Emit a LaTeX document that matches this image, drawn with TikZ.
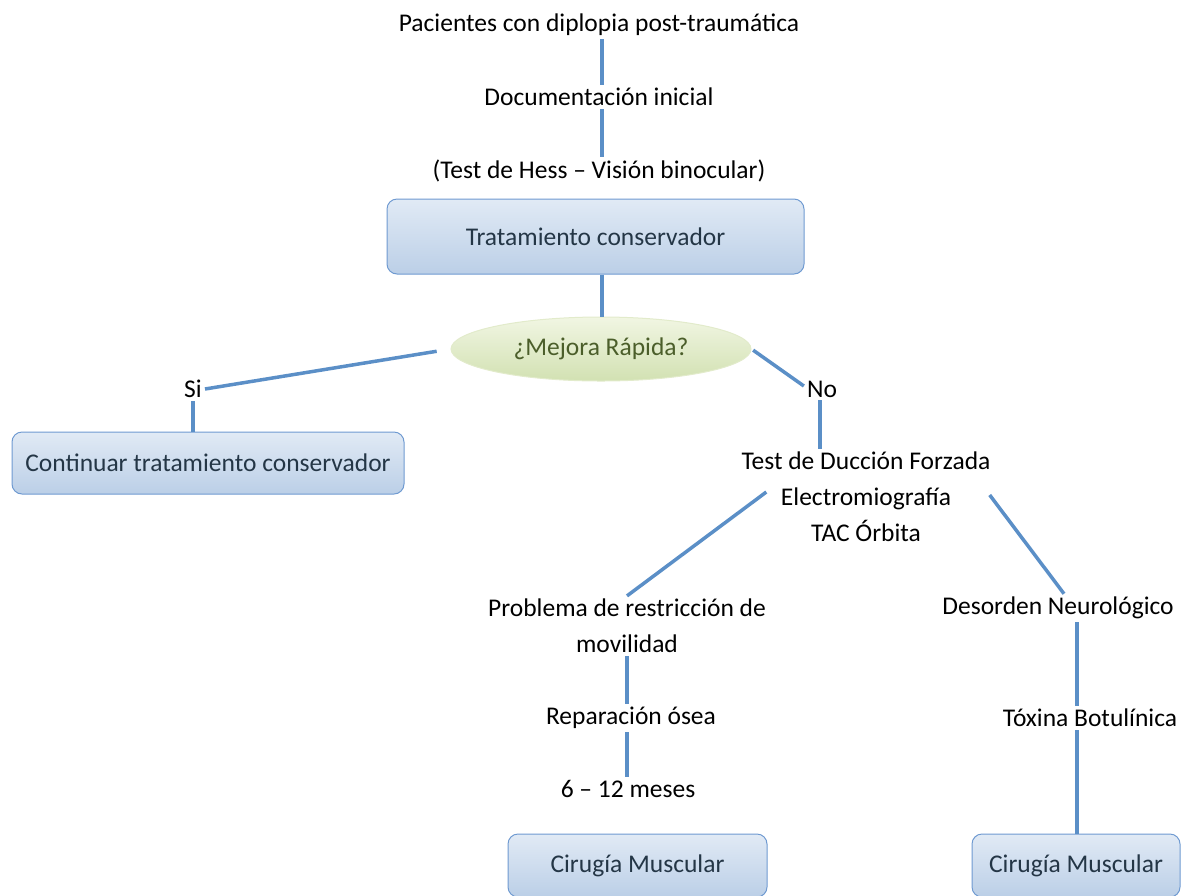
\documentclass[tikz,border=0pt]{standalone}
\usepackage{fontspec}
\setmainfont{Carlito}
\usetikzlibrary{shapes.geometric}
\definecolor{linkblue}{HTML}{5B8FC7}
\definecolor{boxtop}{HTML}{E1EAF5}
\definecolor{boxbot}{HTML}{BBCFE7}
\definecolor{boxedge}{HTML}{6F9AD1}
\definecolor{boxtext}{HTML}{243646}
\definecolor{ovaltop}{HTML}{F1F6E3}
\definecolor{ovalbot}{HTML}{D2E1B2}
\definecolor{ovaledge}{HTML}{E2EBCB}
\definecolor{ovaltext}{HTML}{4B5E2A}

\begin{document}
\begin{tikzpicture}[x=1pt,y=-1pt,
  every node/.style={font=\fontsize{25.5}{36}\selectfont},
  txt/.style={align=center, inner sep=3pt},
  bluebox/.style={draw=boxedge, line width=1pt, rounded corners=10pt,
    top color=boxtop, bottom color=boxbot, text=boxtext, inner sep=0pt},
  oval/.style={ellipse, draw=ovaledge, line width=1pt, top color=ovaltop,
    bottom color=ovalbot, text=ovaltext, minimum width=300, minimum height=64},
  link/.style={draw=linkblue, line width=3.5pt}]
\useasboundingbox (0,0) rectangle (1182,895);

\node[txt] (pac) at (599,25) {Pacientes con diplopia post-traumática};
\node[txt] (doc) at (599,97) {Documentación inicial};
\node[txt] (hess) at (599,171) {(Test de Hess – Visión binocular)};
\node[bluebox, minimum width=417, minimum height=75] (trat) at (595.5,236.5) {Tratamiento conservador};
\node[oval] (mejora) at (601,349) {¿Mejora Rápida?};
\node[txt] (si) at (193,389) {Si};
\node[bluebox, minimum width=392, minimum height=62] (cont) at (208,463) {Continuar tratamiento conservador};
\node[txt] (no) at (822,389) {No};
\node[txt] (test) at (866,497) {Test de Ducción Forzada\\Electromiografía\\TAC Órbita};
\node[txt] (prob) at (627,626) {Problema de restricción de\\movilidad};
\node[txt] (rep) at (631,718) {Reparación ósea};
\node[txt] (meses) at (628,789) {6 – 12 meses};
\node[bluebox, minimum width=259, minimum height=63] (cirA) at (637.5,865.5) {Cirugía Muscular};
\node[txt] (neuro) at (1058,608) {Desorden Neurológico};
\node[txt] (botox) at (1090,718) {Tóxina Botulínica};
\node[bluebox, minimum width=208, minimum height=63] (cirB) at (1076,865.5) {Cirugía Muscular};

\draw[link] (pac.south -| 602,0) -- (doc.north -| 602,0);
\draw[link] (doc.south -| 602,0) -- (hess.north -| 602,0);
\draw[link] (trat.south -| 602,0) -- (mejora.north -| 602,0);
\draw[link, shorten <=14pt] (mejora.west) -- (si.east);
\draw[link] (si.south) -- (cont.north -| si.south);
\draw[link, shorten <=2pt] (mejora.east) -- ([yshift=3pt]no.west);
\draw[link] (no.south -| 820,0) -- (test.north -| 820,0);
\draw[link] ([xshift=28pt,yshift=5pt]test.west) -- (prob.north);
\draw[link] ([xshift=-4pt,yshift=2pt]test.east) -- ([xshift=6pt]neuro.north);
\draw[link] (prob.south) -- (rep.north -| prob.south);
\draw[link] (rep.south -| prob.south) -- (meses.north -| prob.south);
\draw[link] (neuro.south -| 1077,0) -- (botox.north -| 1077,0);
\draw[link] (botox.south -| 1077,0) -- (cirB.north -| 1077,0);
\end{tikzpicture}
\end{document}
